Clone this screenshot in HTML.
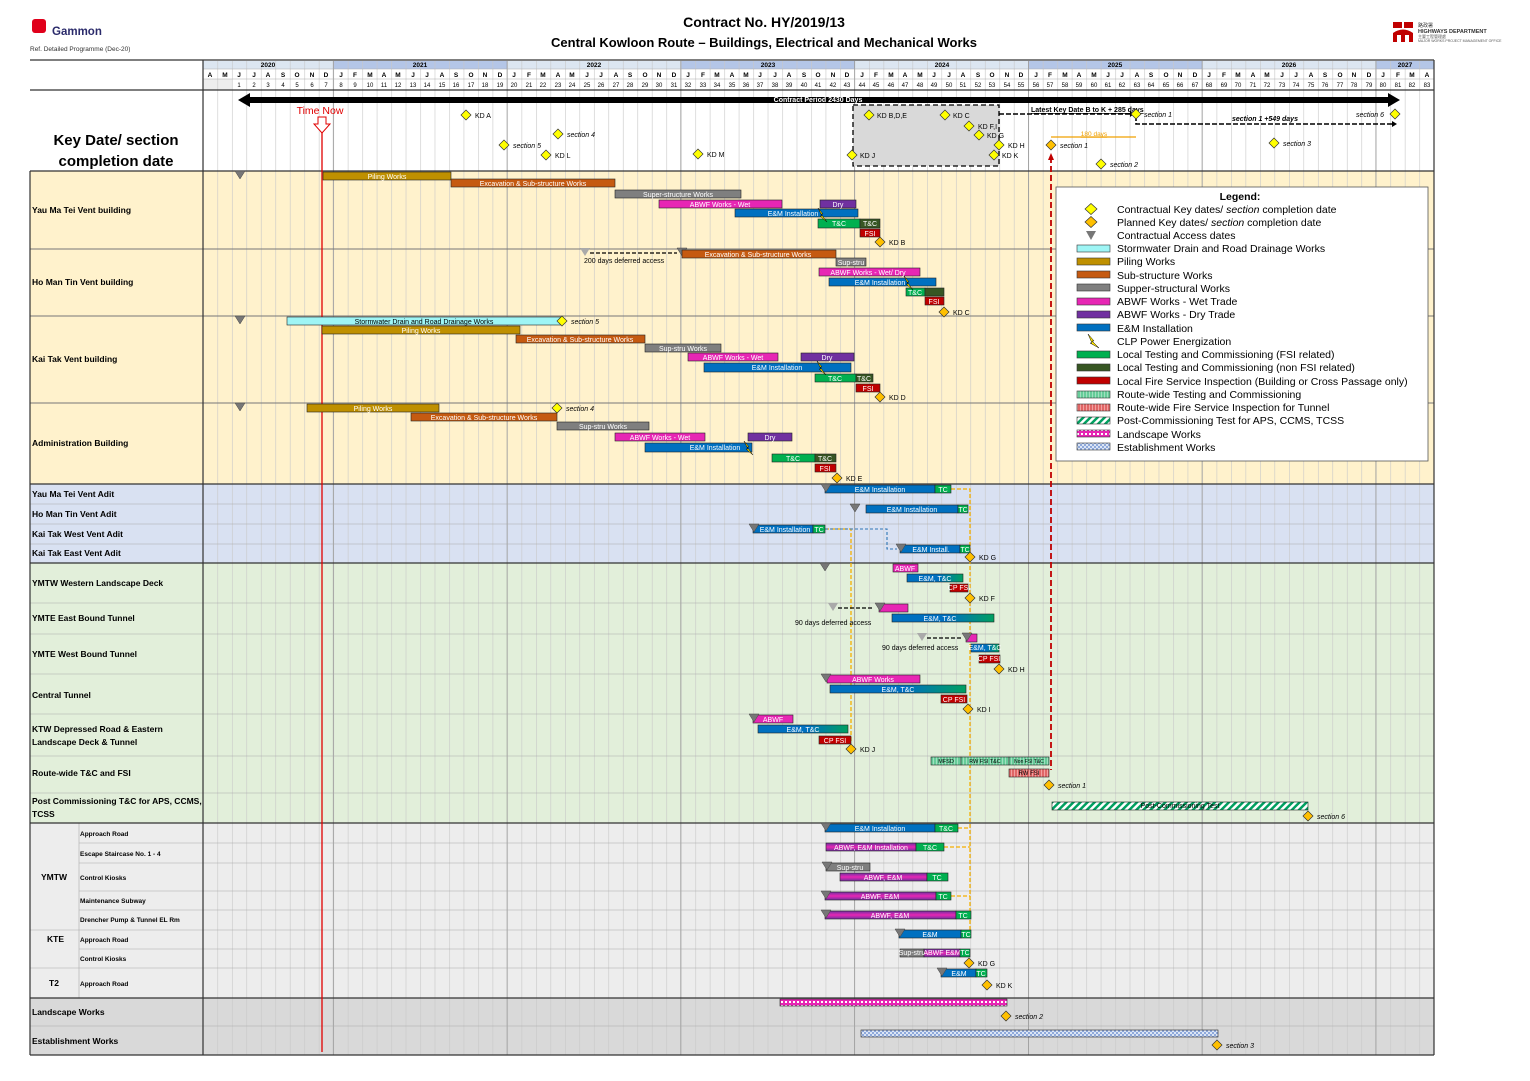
<!DOCTYPE html>
<html><head><meta charset="utf-8"><style>
body{margin:0;background:#fff;}
svg{display:block;font-family:"Liberation Sans","Noto Sans CJK TC",sans-serif;}
.b{stroke:#222;stroke-width:.6}
.t{fill:#fff;font-size:7px;text-anchor:middle}
.k{fill:#000;font-size:7px}
.ki{fill:#000;font-size:7px;font-style:italic}
.lab{font-size:8.5px;font-weight:bold;fill:#000}
.sl{font-size:6.5px;font-weight:bold;fill:#000}
.leg{font-size:10.5px;fill:#000}
</style></head><body>
<svg width="1530" height="1081" viewBox="0 0 1530 1081" xmlns="http://www.w3.org/2000/svg">
<defs>
<pattern id="grid" x="203" y="0" width="14.48" height="10" patternUnits="userSpaceOnUse"><line x1="0.3" y1="0" x2="0.3" y2="10" stroke="#c8c8c8" stroke-width="0.6"/></pattern>
<linearGradient id="emtc" x1="0" x2="1" y1="0" y2="0"><stop offset="0" stop-color="#0070C0"/><stop offset="0.55" stop-color="#0070C0"/><stop offset="1" stop-color="#00A060"/></linearGradient>
<linearGradient id="abem" x1="0" x2="0" y1="0" y2="1"><stop offset="0" stop-color="#7030A0"/><stop offset="0.5" stop-color="#E726B4"/><stop offset="1" stop-color="#7030A0"/></linearGradient>
<pattern id="hatch" width="5" height="5" patternUnits="userSpaceOnUse" patternTransform="rotate(45)"><rect width="5" height="5" fill="#fff"/><rect width="2.5" height="5" fill="#00A060"/></pattern>
<pattern id="land" width="4" height="4" patternUnits="userSpaceOnUse"><rect width="4" height="4" fill="#E726B4"/><rect x="1" y="1" width="2" height="2" fill="#fff"/></pattern>
<pattern id="est" width="4" height="4" patternUnits="userSpaceOnUse"><rect width="4" height="4" fill="#dbe5f5"/><rect width="2" height="2" fill="#8ea9db"/><rect x="2" y="2" width="2" height="2" fill="#8ea9db"/></pattern>
<pattern id="rw" width="3" height="3" patternUnits="userSpaceOnUse"><rect width="3" height="3" fill="#66CC99"/><rect width="1" height="3" fill="#9fe0bf"/></pattern>
<pattern id="rwf" width="3" height="3" patternUnits="userSpaceOnUse"><rect width="3" height="3" fill="#E06666"/><rect width="1" height="3" fill="#f2a0a0"/></pattern>
<g id="dy"><polygon points="0,-5 5,0 0,5 -5,0" fill="#FFFF00" stroke="#333" stroke-width="0.7"/></g>
<g id="do"><polygon points="0,-5 5,0 0,5 -5,0" fill="#FFC000" stroke="#333" stroke-width="0.7"/></g>
<g id="tr"><polygon points="-5,-4 5,-4 0,4" fill="#777" stroke="#444" stroke-width="0.5"/></g>
<g id="trl"><polygon points="-5,-4 5,-4 0,4" fill="#aaa"/></g>
</defs>

<!-- Title -->
<rect x="32" y="19" width="14" height="14" fill="#E0001B" rx="3"/>
<text x="52" y="35" font-size="11.5" font-weight="bold" fill="#2b2b6b">Gammon</text>
<text x="30" y="51" font-size="6.5" fill="#333">Ref. Detailed Programme (Dec-20)</text>
<text x="764" y="27" font-size="14" font-weight="bold" text-anchor="middle">Contract No. HY/2019/13</text>
<text x="764" y="47" font-size="13" font-weight="bold" text-anchor="middle">Central Kowloon Route – Buildings, Electrical and Mechanical Works</text>
<rect x="1393" y="22" width="9" height="6" fill="#C00000"/><rect x="1404" y="22" width="9" height="6" fill="#C00000"/>
<path d="M1393 42 L1393 33 Q1403 26 1413 33 L1413 42 L1409 42 L1409 35 L1405 35 L1405 42 L1401 42 L1401 35 L1397 35 L1397 42Z" fill="#C00000"/>
<text x="1418" y="27" font-size="5" fill="#333">路政署</text>
<text x="1418" y="33" font-size="5.5" font-weight="bold" fill="#333">HIGHWAYS DEPARTMENT</text>
<text x="1418" y="38" font-size="4" fill="#555">主要工程管理處</text>
<text x="1418" y="42" font-size="3.5" fill="#555">MAJOR WORKS PROJECT MANAGEMENT OFFICE</text>

<!-- section backgrounds -->
<rect x="30" y="171" width="1404" height="313" fill="#FFF2CC"/>
<rect x="30" y="484" width="1404" height="79" fill="#D9E1F2"/>
<rect x="30" y="563" width="1404" height="260" fill="#E2EFDA"/>
<rect x="30" y="823" width="1404" height="175" fill="#EDEDED"/>
<rect x="30" y="998" width="1404" height="57" fill="#D9D9D9"/>

<!-- header rows -->
<rect x="203" y="61" width="130.3" height="8" fill="#DCE6F1"/>
<rect x="333.3" y="61" width="173.8" height="8" fill="#B4C6E7"/>
<rect x="507.1" y="61" width="173.7" height="8" fill="#DCE6F1"/>
<rect x="680.8" y="61" width="173.8" height="8" fill="#B4C6E7"/>
<rect x="854.6" y="61" width="173.8" height="8" fill="#DCE6F1"/>
<rect x="1028.4" y="61" width="173.7" height="8" fill="#B4C6E7"/>
<rect x="1202.1" y="61" width="173.8" height="8" fill="#DCE6F1"/>
<rect x="1375.9" y="61" width="58.1" height="8" fill="#B4C6E7"/>
<rect x="203" y="69" width="1231" height="21" fill="#fff"/>
<rect x="203" y="79" width="29" height="11" fill="#eee"/>

<!-- grid -->
<rect x="203" y="61" width="1231" height="994" fill="url(#grid)"/>
<g stroke="#999" stroke-width="0.8">
<line x1="333.3" y1="61" x2="333.3" y2="1055"/><line x1="507.1" y1="61" x2="507.1" y2="1055"/><line x1="680.8" y1="61" x2="680.8" y2="1055"/><line x1="854.6" y1="61" x2="854.6" y2="1055"/><line x1="1028.4" y1="61" x2="1028.4" y2="1055"/><line x1="1202.1" y1="61" x2="1202.1" y2="1055"/><line x1="1375.9" y1="61" x2="1375.9" y2="1055"/>
</g>
<g stroke="#aaa" stroke-width="0.6">
<line x1="203" y1="69" x2="1434" y2="69"/><line x1="203" y1="79" x2="1434" y2="79"/>
<line x1="30" y1="504" x2="1434" y2="504"/><line x1="30" y1="524" x2="1434" y2="524"/><line x1="30" y1="544" x2="1434" y2="544"/>
<line x1="30" y1="603" x2="1434" y2="603"/><line x1="30" y1="634" x2="1434" y2="634"/><line x1="30" y1="674" x2="1434" y2="674"/><line x1="30" y1="714" x2="1434" y2="714"/><line x1="30" y1="756" x2="1434" y2="756"/><line x1="30" y1="793" x2="1434" y2="793"/>
<line x1="79" y1="843" x2="1434" y2="843"/><line x1="79" y1="863" x2="1434" y2="863"/><line x1="79" y1="891" x2="1434" y2="891"/><line x1="79" y1="910" x2="1434" y2="910"/><line x1="30" y1="930" x2="1434" y2="930"/><line x1="79" y1="949" x2="1434" y2="949"/><line x1="30" y1="968" x2="1434" y2="968"/>
<line x1="30" y1="1026" x2="1434" y2="1026"/>
<line x1="79" y1="823" x2="79" y2="998"/>
</g>
<g stroke="#777" stroke-width="0.9">
<line x1="30" y1="249" x2="1434" y2="249"/><line x1="30" y1="316" x2="1434" y2="316"/><line x1="30" y1="403" x2="1434" y2="403"/>
</g>
<g stroke="#333" stroke-width="1.2">
<line x1="30" y1="60" x2="1434" y2="60"/><line x1="30" y1="90" x2="1434" y2="90"/>
<line x1="30" y1="171" x2="1434" y2="171"/><line x1="30" y1="484" x2="1434" y2="484"/><line x1="30" y1="563" x2="1434" y2="563"/><line x1="30" y1="823" x2="1434" y2="823"/><line x1="30" y1="998" x2="1434" y2="998"/><line x1="30" y1="1055" x2="1434" y2="1055"/>
<line x1="203" y1="60" x2="203" y2="1055"/><line x1="1434" y1="60" x2="1434" y2="1055"/><line x1="30" y1="171" x2="30" y2="1055"/>
</g>

<!-- year labels -->
<g font-size="6.5" font-weight="bold" text-anchor="middle">
<text x="268" y="67">2020</text><text x="420" y="67">2021</text><text x="594" y="67">2022</text><text x="768" y="67">2023</text><text x="942" y="67">2024</text><text x="1115" y="67">2025</text><text x="1289" y="67">2026</text><text x="1405" y="67">2027</text>
</g>
<text font-size="6.5" font-weight="bold" text-anchor="middle" y="77" x="210 225 239 254 268 283 297 312 326 341 355 370 384 398 413 427 442 456 471 485 500 514 529 543 558 572 587 601 616 630 645 659 674 688 703 717 732 746 760 775 789 804 818 833 847 862 876 891 905 920 934 949 963 978 992 1007 1021 1036 1050 1065 1079 1094 1108 1122 1137 1151 1166 1180 1195 1209 1224 1238 1253 1267 1282 1296 1311 1325 1340 1354 1369 1383 1398 1412 1427">AMJJASONDJFMAMJJASONDJFMAMJJASONDJFMAMJJASONDJFMAMJJASONDJFMAMJJASONDJFMAMJJASONDJFMA</text>
<text font-size="6" text-anchor="middle" y="87"><tspan x="239">1</tspan><tspan x="254">2</tspan><tspan x="268">3</tspan><tspan x="283">4</tspan><tspan x="297">5</tspan><tspan x="312">6</tspan><tspan x="326">7</tspan><tspan x="341">8</tspan><tspan x="355">9</tspan><tspan x="370">10</tspan><tspan x="384">11</tspan><tspan x="398">12</tspan><tspan x="413">13</tspan><tspan x="427">14</tspan><tspan x="442">15</tspan><tspan x="456">16</tspan><tspan x="471">17</tspan><tspan x="485">18</tspan><tspan x="500">19</tspan><tspan x="514">20</tspan><tspan x="529">21</tspan><tspan x="543">22</tspan><tspan x="558">23</tspan><tspan x="572">24</tspan><tspan x="587">25</tspan><tspan x="601">26</tspan><tspan x="616">27</tspan><tspan x="630">28</tspan><tspan x="645">29</tspan><tspan x="659">30</tspan><tspan x="674">31</tspan><tspan x="688">32</tspan><tspan x="703">33</tspan><tspan x="717">34</tspan><tspan x="732">35</tspan><tspan x="746">36</tspan><tspan x="760">37</tspan><tspan x="775">38</tspan><tspan x="789">39</tspan><tspan x="804">40</tspan><tspan x="818">41</tspan><tspan x="833">42</tspan><tspan x="847">43</tspan><tspan x="862">44</tspan><tspan x="876">45</tspan><tspan x="891">46</tspan><tspan x="905">47</tspan><tspan x="920">48</tspan><tspan x="934">49</tspan><tspan x="949">50</tspan><tspan x="963">51</tspan><tspan x="978">52</tspan><tspan x="992">53</tspan><tspan x="1007">54</tspan><tspan x="1021">55</tspan><tspan x="1036">56</tspan><tspan x="1050">57</tspan><tspan x="1065">58</tspan><tspan x="1079">59</tspan><tspan x="1094">60</tspan><tspan x="1108">61</tspan><tspan x="1122">62</tspan><tspan x="1137">63</tspan><tspan x="1151">64</tspan><tspan x="1166">65</tspan><tspan x="1180">66</tspan><tspan x="1195">67</tspan><tspan x="1209">68</tspan><tspan x="1224">69</tspan><tspan x="1238">70</tspan><tspan x="1253">71</tspan><tspan x="1267">72</tspan><tspan x="1282">73</tspan><tspan x="1296">74</tspan><tspan x="1311">75</tspan><tspan x="1325">76</tspan><tspan x="1340">77</tspan><tspan x="1354">78</tspan><tspan x="1369">79</tspan><tspan x="1383">80</tspan><tspan x="1398">81</tspan><tspan x="1412">82</tspan><tspan x="1427">83</tspan></text>

<!-- left labels -->
<text x="116" y="145" font-size="15" font-weight="bold" text-anchor="middle">Key Date/ section</text>
<text x="116" y="166" font-size="15" font-weight="bold" text-anchor="middle">completion date</text>
<text class="lab" x="32" y="213">Yau Ma Tei Vent building</text>
<text class="lab" x="32" y="285">Ho Man Tin Vent building</text>
<text class="lab" x="32" y="362">Kai Tak Vent building</text>
<text class="lab" x="32" y="446">Administration Building</text>
<text class="lab" x="32" y="497">Yau Ma Tei Vent Adit</text>
<text class="lab" x="32" y="517">Ho Man Tin Vent Adit</text>
<text class="lab" x="32" y="537">Kai Tak West Vent Adit</text>
<text class="lab" x="32" y="556">Kai Tak East Vent Adit</text>
<text class="lab" x="32" y="586">YMTW Western Landscape Deck</text>
<text class="lab" x="32" y="621">YMTE East Bound Tunnel</text>
<text class="lab" x="32" y="657">YMTE West Bound Tunnel</text>
<text class="lab" x="32" y="698">Central Tunnel</text>
<text class="lab" x="32" y="732">KTW Depressed Road &amp; Eastern</text>
<text class="lab" x="32" y="745">Landscape Deck &amp; Tunnel</text>
<text class="lab" x="32" y="776">Route-wide T&amp;C and FSI</text>
<text class="lab" x="32" y="804">Post Commissioning T&amp;C for APS, CCMS,</text>
<text class="lab" x="32" y="817">TCSS</text>
<text class="lab" x="41" y="880">YMTW</text>
<text class="lab" x="47" y="942">KTE</text>
<text class="lab" x="49" y="986">T2</text>
<text class="sl" x="80" y="836">Approach Road</text>
<text class="sl" x="80" y="856">Escape Staircase No. 1 - 4</text>
<text class="sl" x="80" y="880">Control Kiosks</text>
<text class="sl" x="80" y="903">Maintenance Subway</text>
<text class="sl" x="80" y="922">Drencher Pump &amp; Tunnel EL Rm</text>
<text class="sl" x="80" y="942">Approach Road</text>
<text class="sl" x="80" y="961">Control Kiosks</text>
<text class="sl" x="80" y="986">Approach Road</text>
<text class="lab" x="32" y="1015">Landscape Works</text>
<text class="lab" x="32" y="1044">Establishment Works</text>

<!-- key date area -->
<rect x="853" y="105" width="146" height="61" fill="#D9D9D9" stroke="#000" stroke-width="1.3" stroke-dasharray="5,3"/>
<polygon points="238,100 250,93 250,97 1388,97 1388,93 1400,100 1388,107 1388,103 250,103 250,107" fill="#000"/>
<text x="818" y="102" font-size="7" font-weight="bold" fill="#fff" text-anchor="middle">Contract Period 2430 Days</text>
<text x="320" y="114" font-size="10.5" fill="#E00000" text-anchor="middle">Time Now</text>
<polygon points="318,117 326,117 326,124 330,124 322,133 314,124 318,124" fill="#fff" stroke="#E00000" stroke-width="1"/>
<line x1="322" y1="133" x2="322" y2="1052" stroke="#E00000" stroke-width="1.3"/>
<line x1="999" y1="114" x2="1130" y2="114" stroke="#000" stroke-width="1.6" stroke-dasharray="5,2"/><polygon points="1130,111 1134,114 1130,117" fill="#000"/>
<text x="1031" y="112" font-size="7" font-weight="bold" text-decoration="underline">Latest Key Date B to K + 285 days</text>
<polyline points="1136,116 1136,124 1393,124" fill="none" stroke="#000" stroke-width="1.6" stroke-dasharray="5,2"/><polygon points="1392,121 1397,124 1392,127" fill="#000"/>
<text x="1232" y="121" font-size="7" font-weight="bold" font-style="italic">section 1 +549 days</text>
<line x1="1051" y1="137" x2="1136" y2="137" stroke="#F0A000" stroke-width="1.2"/>
<text x="1094" y="136" font-size="6.5" fill="#F0A000" text-anchor="middle" text-decoration="underline">180 days</text>
<line x1="1051" y1="157" x2="1051" y2="770" stroke="#C00000" stroke-width="1.8" stroke-dasharray="6,3"/>
<polygon points="1048,160 1051,153 1054,160" fill="#C00000"/>
<use href="#dy" x="466" y="115"/><text class="k" x="475" y="118">KD A</text>
<use href="#dy" x="558" y="134"/><text class="ki" x="567" y="137">section 4</text>
<use href="#dy" x="504" y="145"/><text class="ki" x="513" y="148">section 5</text>
<use href="#dy" x="546" y="155"/><text class="k" x="555" y="158">KD L</text>
<use href="#dy" x="698" y="154"/><text class="k" x="707" y="157">KD M</text>
<use href="#dy" x="869" y="115"/><text class="k" x="877" y="118">KD B,D,E</text>
<use href="#dy" x="945" y="115"/><text class="k" x="953" y="118">KD C</text>
<use href="#dy" x="969" y="126"/><text class="k" x="978" y="129">KD F,I</text>
<use href="#dy" x="979" y="135"/><text class="k" x="987" y="138">KD G</text>
<use href="#dy" x="999" y="145"/><text class="k" x="1008" y="148">KD H</text>
<use href="#dy" x="852" y="155"/><text class="k" x="860" y="158">KD J</text>
<use href="#dy" x="994" y="155"/><text class="k" x="1002" y="158">KD K</text>
<use href="#dy" x="1136" y="114"/><text class="ki" x="1144" y="117">section 1</text>
<use href="#dy" x="1395" y="114"/><text class="ki" x="1356" y="117">section 6</text>
<use href="#do" x="1051" y="145"/><text class="ki" x="1060" y="148">section 1</text>
<use href="#dy" x="1101" y="164"/><text class="ki" x="1110" y="167">section 2</text>
<use href="#dy" x="1274" y="143"/><text class="ki" x="1283" y="146">section 3</text>

<!-- YMT vent -->
<use href="#tr" x="240" y="175"/>
<rect class="b" x="323" y="172" width="128" height="8" fill="#BF9000"/><text class="t" x="387" y="179">Piling Works</text>
<rect class="b" x="451" y="179" width="164" height="8" fill="#C55A11"/><text class="t" x="533" y="186">Excavation &amp; Sub-structure Works</text>
<rect class="b" x="615" y="190" width="126" height="8" fill="#7F7F7F"/><text class="t" x="678" y="197">Super-structure Works</text>
<rect class="b" x="659" y="200" width="123" height="8" fill="#E726B4"/><text class="t" x="720" y="207">ABWF Works - Wet</text>
<rect class="b" x="820" y="200" width="36" height="8" fill="#7030A0"/><text class="t" x="838" y="207">Dry</text>
<rect class="b" x="735" y="209" width="123" height="8" fill="#0070C0"/><text class="t" x="793" y="216">E&amp;M Installation</text>
<rect class="b" x="818" y="219" width="42" height="9" fill="#00B050"/><text class="t" x="839" y="226">T&amp;C</text>
<rect class="b" x="860" y="219" width="20" height="9" fill="#375623"/><text class="t" x="870" y="226">T&amp;C</text>
<rect class="b" x="860" y="229" width="20" height="8" fill="#C00000"/><text class="t" x="870" y="236">FSI</text>
<use href="#do" x="880" y="242"/><text class="k" x="889" y="245">KD B</text>
<polygon points="818,208 823,214 821,214 827,222 820,216 822,216" fill="#FFE600" stroke="#000" stroke-width=".5"/>
<!-- HMT vent -->
<use href="#trl" x="585" y="252"/>
<line x1="590" y1="253" x2="677" y2="253" stroke="#000" stroke-width="1.2" stroke-dasharray="4,2"/>
<text class="k" x="584" y="263">200 days deferred access</text>
<use href="#tr" x="682" y="252"/>
<rect class="b" x="682" y="250" width="154" height="8" fill="#C55A11"/><text class="t" x="758" y="257">Excavation &amp; Sub-structure Works</text>
<rect class="b" x="836" y="258" width="30" height="8" fill="#7F7F7F"/><text class="t" x="851" y="265">Sup-stru</text>
<rect class="b" x="819" y="268" width="101" height="8" fill="#E726B4"/><text class="t" x="868" y="275">ABWF Works - Wet/ Dry</text>
<rect class="b" x="829" y="278" width="107" height="8" fill="#0070C0"/><text class="t" x="880" y="285">E&amp;M Installation</text>
<rect class="b" x="906" y="288" width="19" height="8" fill="#00B050"/><text class="t" x="915" y="295">T&amp;C</text>
<rect class="b" x="925" y="288" width="19" height="8" fill="#375623"/>
<rect class="b" x="925" y="297" width="19" height="8" fill="#C00000"/><text class="t" x="934" y="304">FSI</text>
<use href="#do" x="944" y="312"/><text class="k" x="953" y="315">KD C</text>
<polygon points="904,276 909,282 907,282 913,290 906,284 908,284" fill="#FFE600" stroke="#000" stroke-width=".5"/>
<!-- KT vent -->
<use href="#tr" x="240" y="320"/>
<rect class="b" x="287" y="317" width="275" height="8" fill="#9EF5F5"/><text class="k" x="424" y="324" text-anchor="middle">Stormwater Drain and Road Drainage Works</text>
<use href="#dy" x="562" y="321"/><text class="ki" x="571" y="324">section 5</text>
<rect class="b" x="322" y="326" width="198" height="8" fill="#BF9000"/><text class="t" x="421" y="333">Piling Works</text>
<rect class="b" x="516" y="335" width="129" height="8" fill="#C55A11"/><text class="t" x="580" y="342">Excavation &amp; Sub-structure Works</text>
<rect class="b" x="645" y="344" width="76" height="8" fill="#7F7F7F"/><text class="t" x="683" y="351">Sup-stru Works</text>
<rect class="b" x="688" y="353" width="90" height="8" fill="#E726B4"/><text class="t" x="733" y="360">ABWF Works - Wet</text>
<rect class="b" x="801" y="353" width="53" height="8" fill="#7030A0"/><text class="t" x="827" y="360">Dry</text>
<rect class="b" x="704" y="363" width="147" height="9" fill="#0070C0"/><text class="t" x="777" y="370">E&amp;M Installation</text>
<rect class="b" x="815" y="374" width="41" height="8" fill="#00B050"/><text class="t" x="835" y="381">T&amp;C</text>
<rect class="b" x="856" y="374" width="17" height="8" fill="#375623"/><text class="t" x="864" y="381">T&amp;C</text>
<rect class="b" x="856" y="384" width="24" height="8" fill="#C00000"/><text class="t" x="868" y="391">FSI</text>
<use href="#do" x="880" y="397"/><text class="k" x="889" y="400">KD D</text>
<polygon points="817,361 822,367 820,367 826,375 819,369 821,369" fill="#FFE600" stroke="#000" stroke-width=".5"/>
<!-- Admin -->
<use href="#tr" x="240" y="407"/>
<rect class="b" x="307" y="404" width="132" height="8" fill="#BF9000"/><text class="t" x="373" y="411">Piling Works</text>
<use href="#dy" x="557" y="408"/><text class="ki" x="566" y="411">section 4</text>
<rect class="b" x="411" y="413" width="146" height="8" fill="#C55A11"/><text class="t" x="484" y="420">Excavation &amp; Sub-structure Works</text>
<rect class="b" x="557" y="422" width="92" height="8" fill="#7F7F7F"/><text class="t" x="603" y="429">Sup-stru Works</text>
<rect class="b" x="615" y="433" width="90" height="8" fill="#E726B4"/><text class="t" x="660" y="440">ABWF Works - Wet</text>
<rect class="b" x="748" y="433" width="44" height="8" fill="#7030A0"/><text class="t" x="770" y="440">Dry</text>
<rect class="b" x="645" y="443" width="107" height="9" fill="#0070C0"/><text class="t" x="715" y="450">E&amp;M Installation</text>
<rect class="b" x="772" y="454" width="43" height="8" fill="#00B050"/><text class="t" x="793" y="461">T&amp;C</text>
<rect class="b" x="815" y="454" width="21" height="8" fill="#375623"/><text class="t" x="825" y="461">T&amp;C</text>
<rect class="b" x="815" y="464" width="21" height="8" fill="#C00000"/><text class="t" x="825" y="471">FSI</text>
<use href="#do" x="837" y="478"/><text class="k" x="846" y="481">KD E</text>
<polygon points="744,441 749,447 747,447 753,455 746,449 748,449" fill="#FFE600" stroke="#000" stroke-width=".5"/>

<!-- orange dashed connectors -->
<g stroke="#F5B000" stroke-width="1.3" fill="none" stroke-dasharray="4,2">
<polyline points="951,489 970,489 970,930"/>
<polyline points="825,529 851,529 851,742"/>
<line x1="958" y1="828" x2="970" y2="828"/><line x1="944" y1="847" x2="970" y2="847"/><line x1="951" y1="896" x2="970" y2="896"/>
</g>
<polyline points="825,529 887,529 887,549 897,549" fill="none" stroke="#2F75B5" stroke-width="1.1" stroke-dasharray="3,2"/>

<!-- Adits -->
<rect class="b" x="825" y="485" width="110" height="8" fill="#0070C0"/><text class="t" x="880" y="492">E&amp;M Installation</text>
<rect class="b" x="935" y="485" width="16" height="8" fill="#00B050"/><text class="t" x="943" y="492">TC</text><use href="#tr" x="826" y="488"/>
<use href="#tr" x="855" y="508"/>
<rect class="b" x="866" y="505" width="92" height="8" fill="#0070C0"/><text class="t" x="912" y="512">E&amp;M Installation</text>
<rect class="b" x="958" y="505" width="10" height="8" fill="#00B050"/><text class="t" x="963" y="512">TC</text>
<rect class="b" x="753" y="525" width="60" height="8" fill="#0070C0"/><text class="t" x="785" y="532">E&amp;M Installation</text>
<rect class="b" x="813" y="525" width="12" height="8" fill="#00B050"/><text class="t" x="819" y="532">TC</text><use href="#tr" x="754" y="528"/>
<rect class="b" x="900" y="545" width="60" height="8" fill="#0070C0"/><text class="t" x="931" y="552">E&amp;M Install.</text>
<rect class="b" x="960" y="545" width="10" height="8" fill="#00B050"/><text class="t" x="965" y="552">TC</text><use href="#tr" x="901" y="548"/>
<use href="#do" x="970" y="557"/><text class="k" x="979" y="560">KD G</text>

<!-- green section -->
<use href="#tr" x="825" y="567"/>
<rect class="b" x="893" y="564" width="25" height="8" fill="#E726B4"/><text class="t" x="905" y="571">ABWF</text>
<rect class="b" x="907" y="574" width="56" height="8" fill="url(#emtc)"/><text class="t" x="935" y="581">E&amp;M, T&amp;C</text>
<rect class="b" x="950" y="584" width="18" height="8" fill="#C00000"/><text class="t" x="959" y="590" font-size="5">CP FSI</text>
<use href="#do" x="970" y="598"/><text class="k" x="979" y="601">KD F</text>

<use href="#trl" x="833" y="607"/><line x1="838" y1="608" x2="874" y2="608" stroke="#000" stroke-width="1.2" stroke-dasharray="4,2"/>
<rect class="b" x="879" y="604" width="29" height="8" fill="#E726B4"/><use href="#tr" x="880" y="607"/>
<rect class="b" x="892" y="614" width="102" height="8" fill="url(#emtc)"/><text class="t" x="940" y="621">E&amp;M, T&amp;C</text>
<text class="k" x="795" y="625">90 days deferred access</text>

<use href="#trl" x="922" y="637"/><line x1="927" y1="638" x2="963" y2="638" stroke="#000" stroke-width="1.2" stroke-dasharray="4,2"/>
<rect class="b" x="966" y="634" width="11" height="8" fill="#E726B4"/><use href="#tr" x="967" y="637"/>
<rect class="b" x="971" y="644" width="28" height="8" fill="url(#emtc)"/><text class="t" x="985" y="650" font-size="5">E&amp;M, T&amp;C</text>
<rect class="b" x="979" y="655" width="21" height="8" fill="#C00000"/><text class="t" x="989" y="661" font-size="5">CP FSI</text>
<text class="k" x="882" y="650">90 days deferred access</text>
<use href="#do" x="999" y="669"/><text class="k" x="1008" y="672">KD H</text>

<rect class="b" x="827" y="675" width="93" height="8" fill="#E726B4"/><text class="t" x="873" y="682">ABWF Works</text><use href="#tr" x="826" y="678"/>
<rect class="b" x="830" y="685" width="136" height="8" fill="url(#emtc)"/><text class="t" x="898" y="692">E&amp;M, T&amp;C</text>
<rect class="b" x="941" y="695" width="26" height="8" fill="#C00000"/><text class="t" x="954" y="702">CP FSI</text>
<use href="#do" x="968" y="709"/><text class="k" x="977" y="712">KD I</text>

<rect class="b" x="753" y="715" width="40" height="8" fill="#E726B4"/><text class="t" x="773" y="722">ABWF</text><use href="#tr" x="754" y="718"/>
<rect class="b" x="758" y="725" width="90" height="8" fill="url(#emtc)"/><text class="t" x="803" y="732">E&amp;M, T&amp;C</text>
<rect class="b" x="819" y="736" width="32" height="8" fill="#C00000"/><text class="t" x="835" y="743">CP FSI</text>
<use href="#do" x="851" y="749"/><text class="k" x="860" y="752">KD J</text>

<rect class="b" x="931" y="757" width="30" height="8" fill="url(#rw)"/><text x="946" y="763" font-size="5.5" text-anchor="middle">MFSD</text>
<rect class="b" x="961" y="757" width="48" height="8" fill="url(#rw)"/><text x="985" y="763" font-size="5.5" text-anchor="middle">RW FSI T&amp;C</text>
<rect class="b" x="1009" y="757" width="40" height="8" fill="url(#rw)"/><text x="1029" y="763" font-size="5" text-anchor="middle">Non FSI T&amp;C</text>
<rect class="b" x="1009" y="769" width="40" height="8" fill="url(#rwf)"/><text x="1029" y="775" font-size="6" text-anchor="middle">RW FSI</text>
<use href="#do" x="1049" y="785"/><text class="ki" x="1058" y="788">section 1</text>
<rect class="b" x="1052" y="802" width="256" height="8" fill="url(#hatch)"/><text x="1180" y="808" font-size="7" text-anchor="middle">Post-Commissioning Test</text>
<use href="#do" x="1308" y="816"/><text class="ki" x="1317" y="819">section 6</text>

<!-- gray section -->
<rect class="b" x="825" y="824" width="110" height="8" fill="#0070C0"/><text class="t" x="880" y="831">E&amp;M Installation</text>
<rect class="b" x="935" y="824" width="23" height="8" fill="#00B050"/><text class="t" x="946" y="831">T&amp;C</text><use href="#tr" x="826" y="827"/>
<rect class="b" x="826" y="843" width="90" height="8" fill="url(#abem)"/><text class="t" x="871" y="850">ABWF, E&amp;M Installation</text>
<rect class="b" x="916" y="843" width="28" height="8" fill="#00B050"/><text class="t" x="930" y="850">T&amp;C</text>
<rect class="b" x="826" y="863" width="44" height="8" fill="#7F7F7F"/><text class="t" x="850" y="870">Sup-stru</text><use href="#tr" x="827" y="866"/>
<rect class="b" x="840" y="873" width="87" height="8" fill="url(#abem)"/><text class="t" x="883" y="880">ABWF, E&amp;M</text>
<rect class="b" x="927" y="873" width="21" height="8" fill="#00B050"/><text class="t" x="937" y="880">TC</text>
<rect class="b" x="825" y="892" width="111" height="8" fill="url(#abem)"/><text class="t" x="880" y="899">ABWF, E&amp;M</text>
<rect class="b" x="936" y="892" width="15" height="8" fill="#00B050"/><text class="t" x="943" y="899">TC</text><use href="#tr" x="826" y="895"/>
<rect class="b" x="825" y="911" width="131" height="8" fill="url(#abem)"/><text class="t" x="890" y="918">ABWF, E&amp;M</text>
<rect class="b" x="956" y="911" width="15" height="8" fill="#00B050"/><text class="t" x="963" y="918">TC</text><use href="#tr" x="826" y="914"/>
<rect class="b" x="899" y="930" width="62" height="8" fill="#0070C0"/><text class="t" x="930" y="937">E&amp;M</text>
<rect class="b" x="961" y="930" width="10" height="8" fill="#00B050"/><text class="t" x="966" y="937">TC</text><use href="#tr" x="900" y="933"/>
<rect class="b" x="900" y="949" width="24" height="8" fill="#7F7F7F"/><text class="t" x="912" y="955" font-size="4.5">Sup-stru</text>
<rect class="b" x="924" y="949" width="36" height="8" fill="url(#abem)"/><text class="t" x="942" y="955" font-size="4.5">ABWF E&amp;M</text>
<rect class="b" x="960" y="949" width="10" height="8" fill="#00B050"/><text class="t" x="965" y="955" font-size="5">TC</text>
<use href="#do" x="969" y="963"/><text class="k" x="978" y="966">KD G</text>
<rect class="b" x="941" y="969" width="35" height="8" fill="#0070C0"/><text class="t" x="959" y="976">E&amp;M</text>
<rect class="b" x="976" y="969" width="11" height="8" fill="#00B050"/><text class="t" x="981" y="976">TC</text><use href="#tr" x="942" y="972"/>
<use href="#do" x="987" y="985"/><text class="k" x="996" y="988">KD K</text>
<rect class="b" x="780" y="999" width="227" height="7" fill="url(#land)"/>
<use href="#do" x="1006" y="1016"/><text class="ki" x="1015" y="1019">section 2</text>
<rect class="b" x="861" y="1030" width="357" height="7" fill="url(#est)"/>
<use href="#do" x="1217" y="1045"/><text class="ki" x="1226" y="1048">section 3</text>

<!-- legend -->
<rect x="1056" y="187" width="372" height="274" fill="#fff" stroke="#555" stroke-width="0.8"/>
<text x="1240" y="200" font-size="10.5" font-weight="bold" text-anchor="middle">Legend:</text>
<g transform="translate(1091,209)"><polygon points="0,-5.5 6,0 0,5.5 -6,0" fill="#FFFF00" stroke="#333" stroke-width=".7"/></g>
<g transform="translate(1091,222)"><polygon points="0,-5.5 6,0 0,5.5 -6,0" fill="#FFC000" stroke="#333" stroke-width=".7"/></g>
<polygon points="1086,231 1096,231 1091,240" fill="#777"/>
<rect x="1077" y="245" width="33" height="7" fill="#9EF5F5" stroke="#333" stroke-width=".6"/>
<rect x="1077" y="258" width="33" height="7" fill="#BF9000" stroke="#333" stroke-width=".6"/>
<rect x="1077" y="271" width="33" height="7" fill="#C55A11" stroke="#333" stroke-width=".6"/>
<rect x="1077" y="284" width="33" height="7" fill="#7F7F7F" stroke="#333" stroke-width=".6"/>
<rect x="1077" y="298" width="33" height="7" fill="#E726B4" stroke="#333" stroke-width=".6"/>
<rect x="1077" y="311" width="33" height="7" fill="#7030A0" stroke="#333" stroke-width=".6"/>
<rect x="1077" y="324" width="33" height="7" fill="#0070C0" stroke="#333" stroke-width=".6"/>
<polygon points="1088,334 1094,341 1092,341 1099,348 1090,343 1092,343" fill="#FFE600" stroke="#000" stroke-width=".5"/>
<rect x="1077" y="351" width="33" height="7" fill="#00B050" stroke="#333" stroke-width=".6"/>
<rect x="1077" y="364" width="33" height="7" fill="#375623" stroke="#333" stroke-width=".6"/>
<rect x="1077" y="377" width="33" height="7" fill="#C00000" stroke="#333" stroke-width=".6"/>
<rect x="1077" y="391" width="33" height="7" fill="url(#rw)" stroke="#333" stroke-width=".6"/>
<rect x="1077" y="404" width="33" height="7" fill="url(#rwf)" stroke="#333" stroke-width=".6"/>
<rect x="1077" y="417" width="33" height="7" fill="url(#hatch)" stroke="#333" stroke-width=".6"/>
<rect x="1077" y="430" width="33" height="7" fill="url(#land)" stroke="#333" stroke-width=".6"/>
<rect x="1077" y="443" width="33" height="7" fill="url(#est)" stroke="#333" stroke-width=".6"/>
<g class="leg">
<text class="leg" x="1117" y="213">Contractual Key dates/ <tspan font-style="italic">section</tspan> completion date</text>
<text class="leg" x="1117" y="226">Planned Key dates/ <tspan font-style="italic">section</tspan> completion date</text>
<text class="leg" x="1117" y="239">Contractual Access dates</text>
<text class="leg" x="1117" y="252">Stormwater Drain and Road Drainage Works</text>
<text class="leg" x="1117" y="265">Piling Works</text>
<text class="leg" x="1117" y="279">Sub-structure Works</text>
<text class="leg" x="1117" y="292">Supper-structural Works</text>
<text class="leg" x="1117" y="305">ABWF Works - Wet Trade</text>
<text class="leg" x="1117" y="318">ABWF Works - Dry Trade</text>
<text class="leg" x="1117" y="332">E&amp;M Installation</text>
<text class="leg" x="1117" y="345">CLP Power Energization</text>
<text class="leg" x="1117" y="358">Local Testing and Commissioning (FSI related)</text>
<text class="leg" x="1117" y="371">Local Testing and Commissioning (non FSI related)</text>
<text class="leg" x="1117" y="385">Local Fire Service Inspection (Building or Cross Passage only)</text>
<text class="leg" x="1117" y="398">Route-wide Testing and Commissioning</text>
<text class="leg" x="1117" y="411">Route-wide Fire Service Inspection for Tunnel</text>
<text class="leg" x="1117" y="424">Post-Commissioning Test for APS, CCMS, TCSS</text>
<text class="leg" x="1117" y="438">Landscape Works</text>
<text class="leg" x="1117" y="451">Establishment Works</text>
</g>
</svg>
</body></html>
